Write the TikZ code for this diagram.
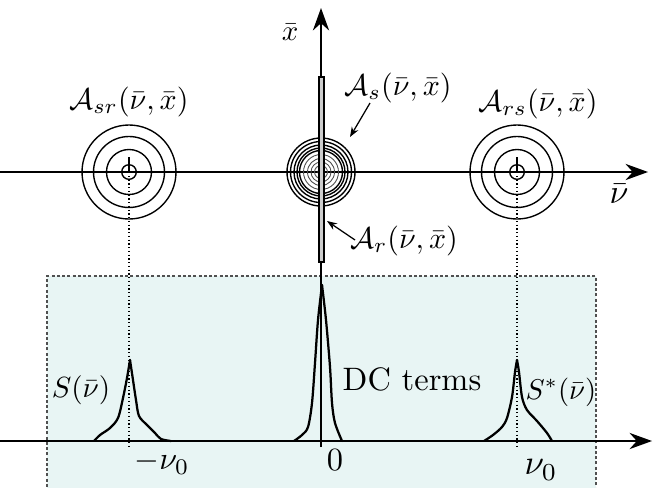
\documentclass[tikz,border=0pt]{standalone}
\usetikzlibrary{arrows.meta}
\definecolor{boxfill}{RGB}{232,245,244}
\definecolor{dashgray}{RGB}{80,80,80}
\begin{document}
\begin{tikzpicture}[x=0.4pt,y=-0.4pt,
  axis/.style={line width=0.6pt,-{Stealth[length=9pt,width=6.5pt]}},
  ring/.style={line width=0.55pt},
  thinring/.style={line width=0.35pt,black!70},
  peak/.style={line width=0.9pt,line cap=round,line join=round},
  guide/.style={densely dotted,line width=0.5pt},
  pointer/.style={line width=0.5pt,-{Stealth[length=4pt,width=3pt]}},
  lbl/.style={inner sep=0pt,scale=1.1}]
\useasboundingbox (0,0) rectangle (665,487);
% shaded box
\fill[boxfill] (47,276) rectangle (596,492);
\draw[dashgray,dash pattern=on 1.2pt off 0.9pt,line width=0.6pt] (47,492) -- (47,276) -- (596,276) -- (596,492);
% centres
\coordinate (L) at (129,172);
\coordinate (C) at (321,172);
\coordinate (R) at (517,172);
\coordinate (Lb) at (129,447);
\coordinate (Rb) at (517,447);
% guides
\draw[guide] (L) -- (Lb);
\draw[guide] (R) -- (Rb);
% axes
\coordinate (h0) at (0,172); \coordinate (h1) at (648,172);
\coordinate (v0) at (321,447); \coordinate (v1) at (321,8);
\coordinate (b0) at (0,441); \coordinate (b1) at (652,441);
\draw[axis] (h0) -- (h1);
\draw[axis] (v0) -- (v1);
\draw[axis] (b0) -- (b1);
% side rings
\foreach \c in {L,R}{
  \draw[ring] (\c) circle[radius=47];
  \draw[ring] (\c) circle[radius=35.5];
  \draw[ring] (\c) circle[radius=22.5];
  \draw[ring] (\c) circle[radius=7.3];
  \draw[line width=0.5pt] (\c) -- ++(0,-15);
}
% centre rings
\foreach \r in {34,30.5,27,24,21.5}{\draw[ring] (C) circle[radius=\r];}
\foreach \r in {17.5,13.5,10,6.5,3.2}{\draw[thinring] (C) circle[radius=\r];}
% strip
\draw[fill=black!20,line width=0.45pt] (319,77) rectangle (324,262);
% peaks
\draw[peak] plot[smooth,tension=0.5] coordinates {(94,441) (100,435) (110,428) (118,418) (123,398) (127,378) (130,360)};
\draw[peak] plot[smooth,tension=0.5] coordinates {(130,360) (133,380) (136,400) (139,416) (147,425) (155,433) (161,439) (171,441)};
\draw[peak] plot[smooth,tension=0.5] coordinates {(294,441) (302,435) (308,427) (312,403) (315,363) (318,320) (322,285)};
\draw[peak] plot[smooth,tension=0.5] coordinates {(322,285) (326,320) (330,367) (332,403) (335,423) (342,441)};
\draw[peak] plot[smooth,tension=0.5] coordinates {(484,441) (493,435) (502,427) (507,418) (512,397) (515,372) (517,360)};
\draw[peak] plot[smooth,tension=0.5] coordinates {(517,360) (519,372) (522,397) (527,410) (537,421) (547,433) (552,441)};
% labels
\node[lbl,scale=1.05] (xl) at (290,32) {$\bar x$};
\node[lbl,scale=1.23] (nl) at (619,194) {$\bar\nu$};
\node[lbl,scale=1.09] (Asr) at (129,102) {$\mathcal{A}_{sr}(\bar\nu,\bar x)$};
\node[lbl,scale=1.09] (Ars) at (538,104) {$\mathcal{A}_{rs}(\bar\nu,\bar x)$};
\node[lbl,scale=1.09] (As) at (398,88) {$\mathcal{A}_{s}(\bar\nu,\bar x)$};
\node[lbl,scale=1.09] (Ar) at (404,241) {$\mathcal{A}_{r}(\bar\nu,\bar x)$};
\node[lbl,scale=1.06] (S) at (81,390) {$S(\bar\nu)$};
\node[lbl,scale=1.04] (Ss) at (561,392) {$S^{*}(\bar\nu)$};
\node[lbl,scale=1.16] (mn) at (162,463) {$-\nu_0$};
\node[lbl,scale=1.18] (zero) at (335,460) {$0$};
\node[lbl,scale=1.27] (pn) at (541,470) {$\nu_0$};
\node[lbl,scale=1.18] (dc) at (412,379) {DC terms};
% pointers
\coordinate (AsTail) at (370,103); \coordinate (AsTip) at (350,137);
\coordinate (ArTail) at (355,240); \coordinate (ArTip) at (327,221);
\draw[pointer] (AsTail) -- (AsTip);
\draw[pointer] (ArTail) -- (ArTip);
\end{tikzpicture}
\end{document}
